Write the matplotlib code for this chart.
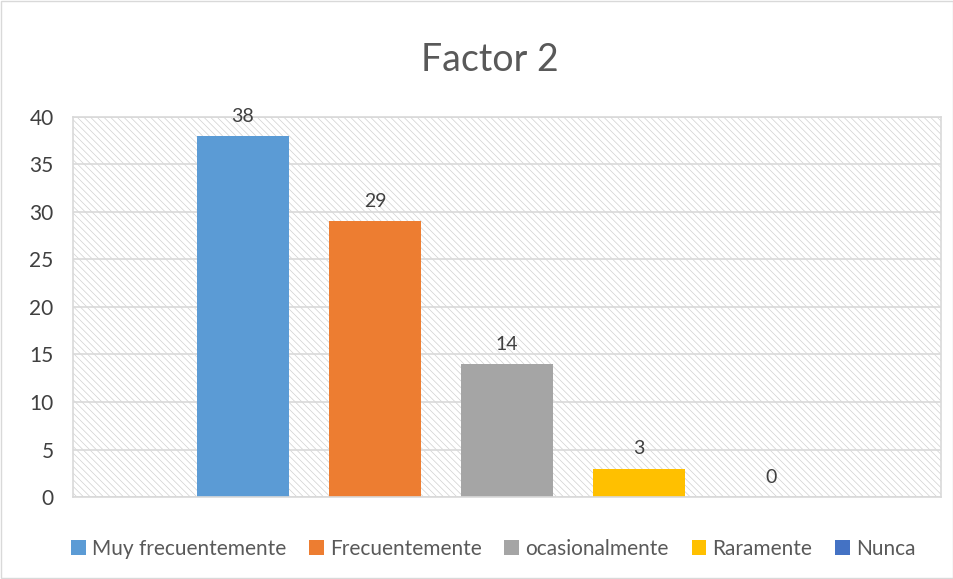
import matplotlib
matplotlib.use("Agg")
import matplotlib.pyplot as plt
from matplotlib.patches import Rectangle

categories = ["Muy frecuentemente", "Frecuentemente", "ocasionalmente", "Raramente", "Nunca"]
values = [38, 29, 14, 3, 0]
colors = ["#5b9bd5", "#ed7d31", "#a5a5a5", "#ffc000", "#4472c4"]
yticks = [0, 5, 10, 15, 20, 25, 30, 35, 40]

plt.rcParams["font.family"] = ["Lato", "DejaVu Sans"]
plt.rcParams["hatch.linewidth"] = 0.5
plt.rcParams["hatch.color"] = "#d0d0d0"

fig = plt.figure(figsize=(9.54, 5.79), dpi=100)
ax = fig.add_axes([0.0765, 0.1416, 0.9099, 0.6564])

# hatched plot area
ax.add_patch(Rectangle((0, 0), 1, 1, transform=ax.transAxes, facecolor="white",
                       edgecolor="#d0d0d0", hatch="\\\\\\\\\\", linewidth=0, zorder=0))

for y in yticks:
    ax.axhline(y, color="#d9d9d9", linewidth=1.2, zorder=1)

x = list(range(len(values)))
ax.bar(x, values, width=0.7, color=colors, zorder=2)
handles = []
for xi, v, c, name in zip(x, values, colors, categories):
    ax.text(xi, v + 1.2, str(v), ha="center", va="bottom", fontsize=14, color="#404040")
    handles.append(Rectangle((0, 0), 1, 1, facecolor=c, label=name))

ax.set_xlim(-1.288, 5.288)
ax.set_ylim(0, 40)
ax.set_xticks([])
ax.set_yticks(yticks)
ax.tick_params(axis="y", length=0, labelsize=15, labelcolor="#404040", pad=14)
for s in ["top", "right", "left", "bottom"]:
    ax.spines[s].set_color("#d9d9d9")
    ax.spines[s].set_linewidth(1.2)

fig.text(0.513, 0.897, "Factor 2", ha="center", va="center", fontsize=27, color="#595959")

fig.legend(handles=handles, loc="center", bbox_to_anchor=(0.517, 0.052), ncol=5,
           frameon=False, fontsize=15, handlelength=0.7, handleheight=0.7,
           handletextpad=0.3, columnspacing=1.1, labelcolor="#595959")

fig.add_artist(Rectangle((0.001, 0.001), 0.998, 0.998, transform=fig.transFigure,
                         fill=False, edgecolor="#d9d9d9", linewidth=1))

fig.savefig("out.png", dpi=100)
